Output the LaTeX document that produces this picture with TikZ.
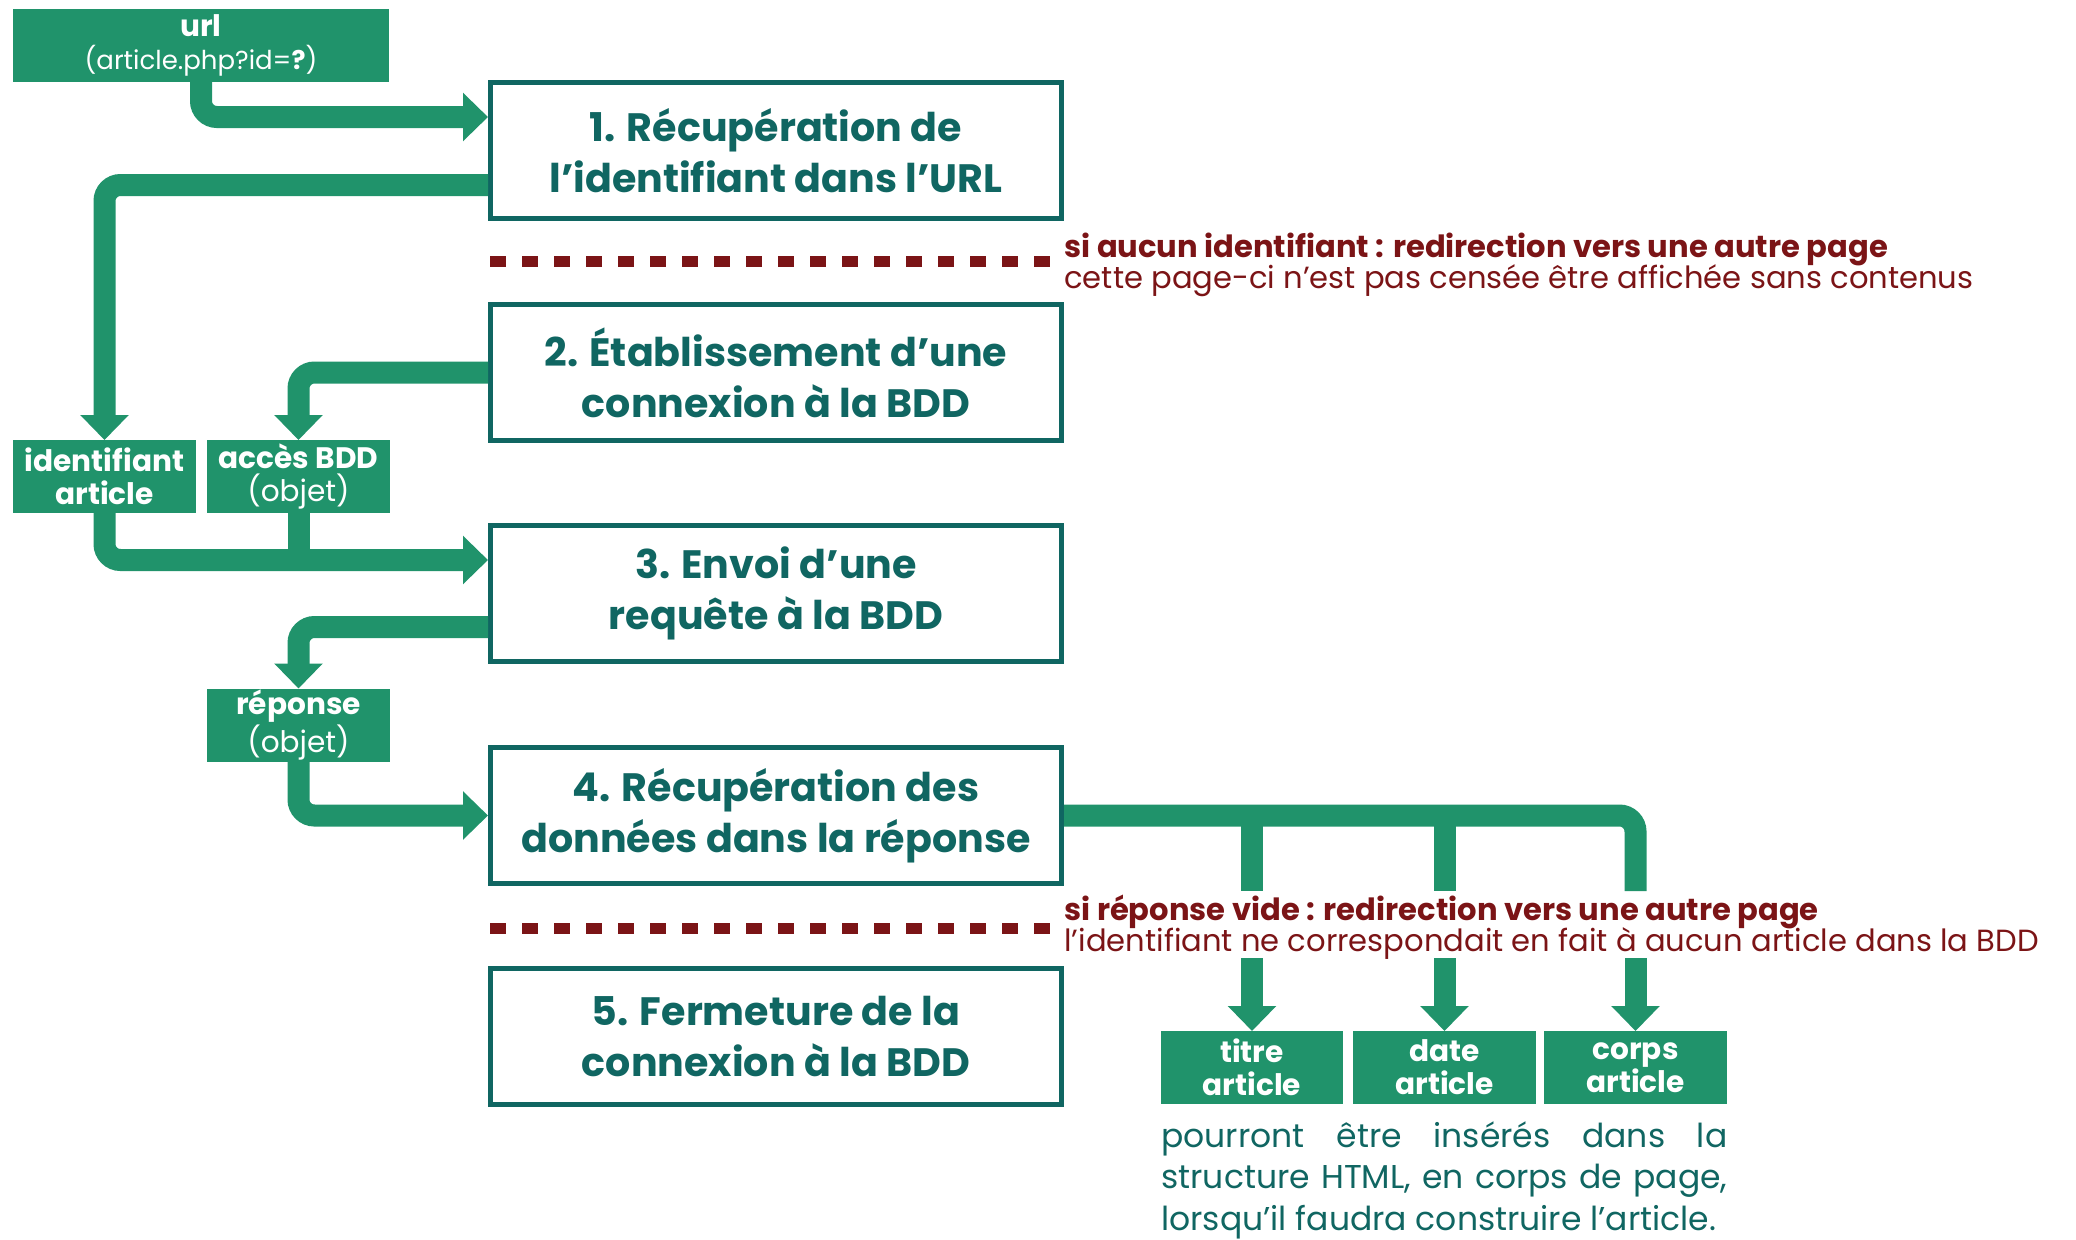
\documentclass[tikz,border=0pt]{standalone}
\usepackage{fontspec}
\setmainfont{Poppins}
\usetikzlibrary{arrows.meta,calc}
\definecolor{vert}{HTML}{20936B}
\definecolor{cteal}{HTML}{106662}
\definecolor{cred}{HTML}{7B1416}
\begin{document}
\begin{tikzpicture}[x=0.5pt,y=-0.5pt,
  stepbox/.style={draw=cteal, line width=2.5pt, fill=white, minimum width=285.5pt, minimum height=68pt, inner sep=0pt, align=center, text=cteal, font=\fontsize{19.8}{25.5}\selectfont\bfseries},
  gbox/.style={fill=vert, text=white, inner sep=0pt, outer sep=0pt, minimum height=36.5pt, align=center, font=\fontsize{14.8}{16.5}\selectfont},
  conn/.style={draw=vert, line width=11pt, rounded corners=8pt},
  arr/.style={-{Triangle[length=12.5pt,width=23.5pt]}},
  dashline/.style={draw=cred, line width=5.5pt, dash pattern=on 8pt off 8pt},
  redtxt/.style={text=cred, anchor=north west, inner sep=0pt, align=left, font=\fontsize{15.3}{15.5}\selectfont},
]
\useasboundingbox (0,0) rectangle (2076,1239);

% step boxes
\node[stepbox] (b1) at (776,150.5) {1. Récupération de\\l’identifiant dans l’URL};
\node[stepbox] (b2) at (776,372.5) {2. Établissement d’une\\connexion à la BDD};
\node[stepbox] (b3) at (776,593.5) {3. Envoi d’une\\requête à la BDD};
\node[stepbox] (b4) at (776,815.5) {4. Récupération des\\données dans la réponse};
\node[stepbox] (b5) at (776,1036.5) {5. Fermeture de la\\connexion à la BDD};

% green boxes
\node[gbox, minimum width=188pt] (url) at (201,45.5) {\textbf{url}\\{\fontsize{13}{16.5}\selectfont(article.php?id=\textbf{?})}};
\node[gbox, minimum width=91.5pt] (ident) at (104.5,476.5) {\textbf{identifiant}\\\textbf{article}};
\node[gbox, minimum width=91.5pt] (acces) at (298.5,476.5) {\textbf{accès BDD}\\(objet)};
\node[gbox, minimum width=91.5pt] (resp) at (298.5,725) {\textbf{réponse}\\(objet)};
\node[gbox, minimum width=91pt] (titre) at (1252,1067.5) {\textbf{titre}\\\textbf{article}};
\node[gbox, minimum width=91.5pt] (date) at (1444.5,1067.5) {\textbf{date}\\\textbf{article}};
\node[gbox, minimum width=91.5pt] (corps) at (1635.5,1067.5) {\textbf{corps}\\\textbf{article}};

% coordinates
\coordinate (in1) at ($(b1.west)+(0,-33.5)$);
\coordinate (out1) at ($(b1.west)+(0,34.5)$);
\coordinate (in3) at ($(b3.west)+(0,-33.5)$);
\coordinate (out3) at ($(b3.west)+(0,33.5)$);
\coordinate (gapT) at (0,891);
\coordinate (gapB) at (0,958);

% connectors
\draw[conn, arr] (url.south) |- (in1);
\draw[conn, arr] (out1) -| (ident.north);
\draw[conn, arr] (b2.west) -| (acces.north);
\draw[conn, arr] (ident.south) |- (in3);
\draw[conn] (acces.south) -- (acces.south |- in3);
\draw[conn, arr] (out3) -| (resp.north);
\draw[conn, arr] (resp.south) |- (b4.west);
\draw[conn] (b4.east) -| (corps.north |- gapT);
\draw[conn] (titre.north |- b4.east) -- (titre.north |- gapT);
\draw[conn] (date.north |- b4.east) -- (date.north |- gapT);
\draw[conn, arr] (titre.north |- gapB) -- (titre.north);
\draw[conn, arr] (date.north |- gapB) -- (date.north);
\draw[conn, arr] (corps.north |- gapB) -- (corps.north);

% dashed separators
\draw[dashline] (490,261.5) -- (1050,261.5);
\draw[dashline] (490,928) -- (1050,928);

% red notes
\node[redtxt] (note1) at (1064,233) {\strut\textbf{si aucun identifiant : redirection vers une autre page}\\[-2.2pt]\strut cette page-ci n’est pas censée être affichée sans contenus};
\node[redtxt] (note2) at (1064,895) {\strut\textbf{si réponse vide : redirection vers une autre page}\\[-2.2pt]\strut l’identifiant ne correspondait en fait à aucun article dans la BDD};

% bottom text
\node[anchor=north west, inner sep=0pt, align=left, text=cteal, font=\fontsize{16.5}{20.75}\selectfont] (txt) at (1161,1118) {\strut\makebox[283pt][s]{pourront être insérés dans la}\\\strut\makebox[283pt][s]{structure HTML, en corps de page,}\\\strut lorsqu’il faudra construire l’article.};
\end{tikzpicture}
\end{document}
